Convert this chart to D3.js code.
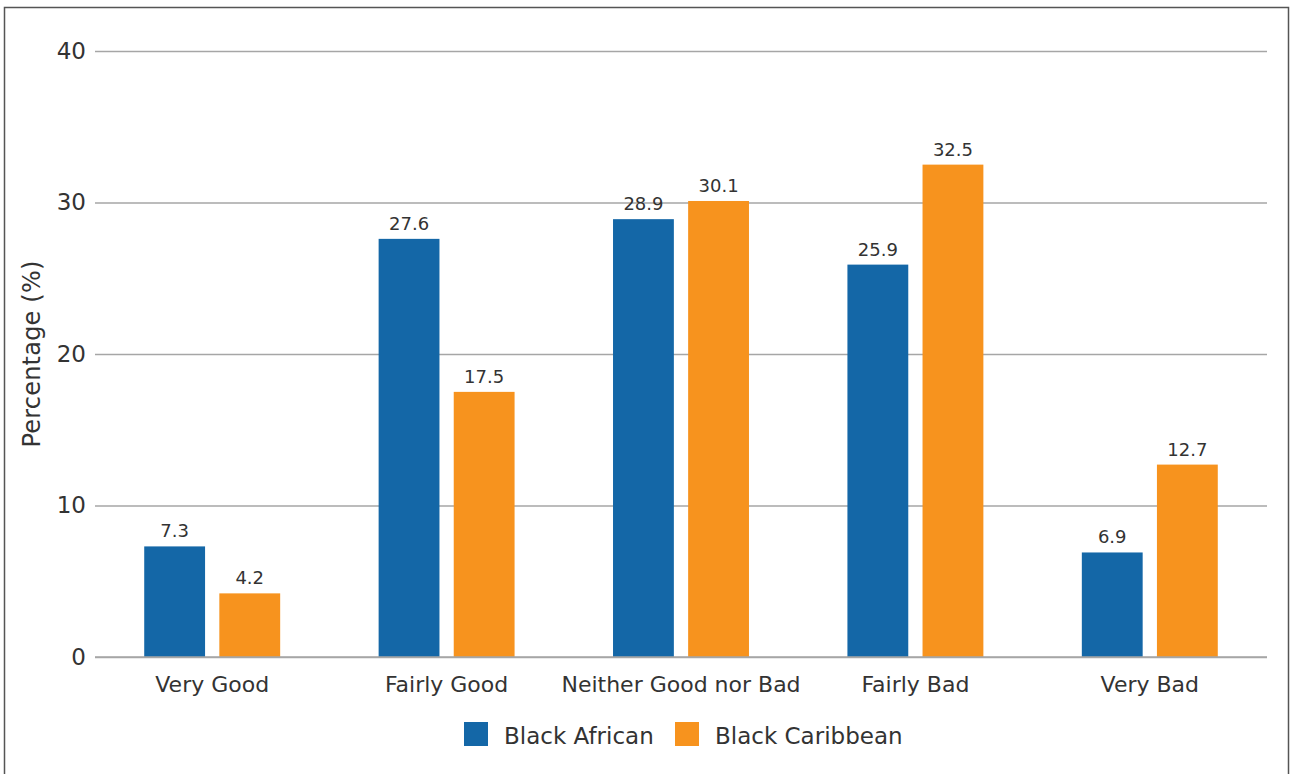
<!DOCTYPE html>
<html><head><meta charset="utf-8">
<script src="https://cdn.jsdelivr.net/npm/d3@7"></script>
<style>body{margin:0;background:#fff;}svg{display:block;font-family:"DejaVu Sans",sans-serif;}</style>
</head><body>
<svg id="c" width="1290" height="774"></svg>
<script>
const categories = ["Very Good","Fairly Good","Neither Good nor Bad","Fairly Bad","Very Bad"];
const seriesNames = ["Black African","Black Caribbean"];
const blackAfrican = [7.3,27.6,28.9,25.9,6.9];
const blackCaribbean = [4.2,17.5,30.1,32.5,12.7];
const yTicks = [0,10,20,30,40];
const colors = ["#1467a7","#f7931e"];

(function(){
const FONT="DejaVu Sans";
const svg = d3.select("#c");
svg.append("rect").attr("x",4.5).attr("y",7.5).attr("width",1284).attr("height",780)
  .attr("fill","none").attr("stroke","#555").attr("stroke-width",1.5);

const pl=95,pr=1267,pt=51,pb=657;
const y=d3.scaleLinear().domain([0,40]).range([pb,pt]);
const x0=d3.scaleBand().domain(categories).range([pl,pr]).paddingInner(0.42).paddingOuter(0.21);
const x1=d3.scaleBand().domain(seriesNames).range([0,x0.bandwidth()]).paddingInner(0.19);

const yAxis=d3.axisLeft(y).tickValues(yTicks).tickSize(-(pr-pl)).tickPadding(9);
const ga=svg.append("g").attr("transform",`translate(${pl},0)`).call(yAxis);
ga.select(".domain").remove();
ga.selectAll(".tick line").attr("stroke","#a6a6a6").attr("stroke-width",1.5);
ga.selectAll(".tick text").attr("fill","#333").attr("font-size",23).attr("font-family",FONT);

const data=categories.map((c,i)=>({cat:c,vals:[blackAfrican[i],blackCaribbean[i]]}));
const g=svg.append("g");
data.forEach(d=>{
  d.vals.forEach((v,j)=>{
    const xx=x0(d.cat)+x1(seriesNames[j]);
    g.append("rect").attr("x",xx).attr("y",y(v)).attr("width",x1.bandwidth()).attr("height",y(0)-y(v)).attr("fill",colors[j]);
    g.append("text").attr("x",xx+x1.bandwidth()/2).attr("y",y(v)-9).attr("text-anchor","middle")
      .attr("font-size",18).attr("fill","#333").text(v.toFixed(1));
  });
});
svg.append("line").attr("x1",pl).attr("x2",pr).attr("y1",y(0)).attr("y2",y(0)).attr("stroke","#a6a6a6").attr("stroke-width",1.5);

const xAxis=d3.axisBottom(x0).tickSize(0).tickPadding(19);
const gx=svg.append("g").attr("transform",`translate(0,${pb})`).call(xAxis);
gx.select(".domain").remove();
gx.selectAll(".tick text").attr("fill","#333").attr("font-size",22).attr("font-family",FONT);

svg.append("text").attr("transform",`translate(40,354) rotate(-90)`).attr("text-anchor","middle")
  .attr("font-size",24).attr("letter-spacing",0.2).attr("fill","#333").text("Percentage (%)");

const lg=svg.append("g");
const legX=[464,675];
seriesNames.forEach((s,j)=>{
  lg.append("rect").attr("x",legX[j]).attr("y",722).attr("width",24).attr("height",24).attr("fill",colors[j]);
  lg.append("text").attr("x",legX[j]+40).attr("y",744).attr("font-size",23).attr("fill","#333").text(s);
});
})();
</script>
</body></html>
